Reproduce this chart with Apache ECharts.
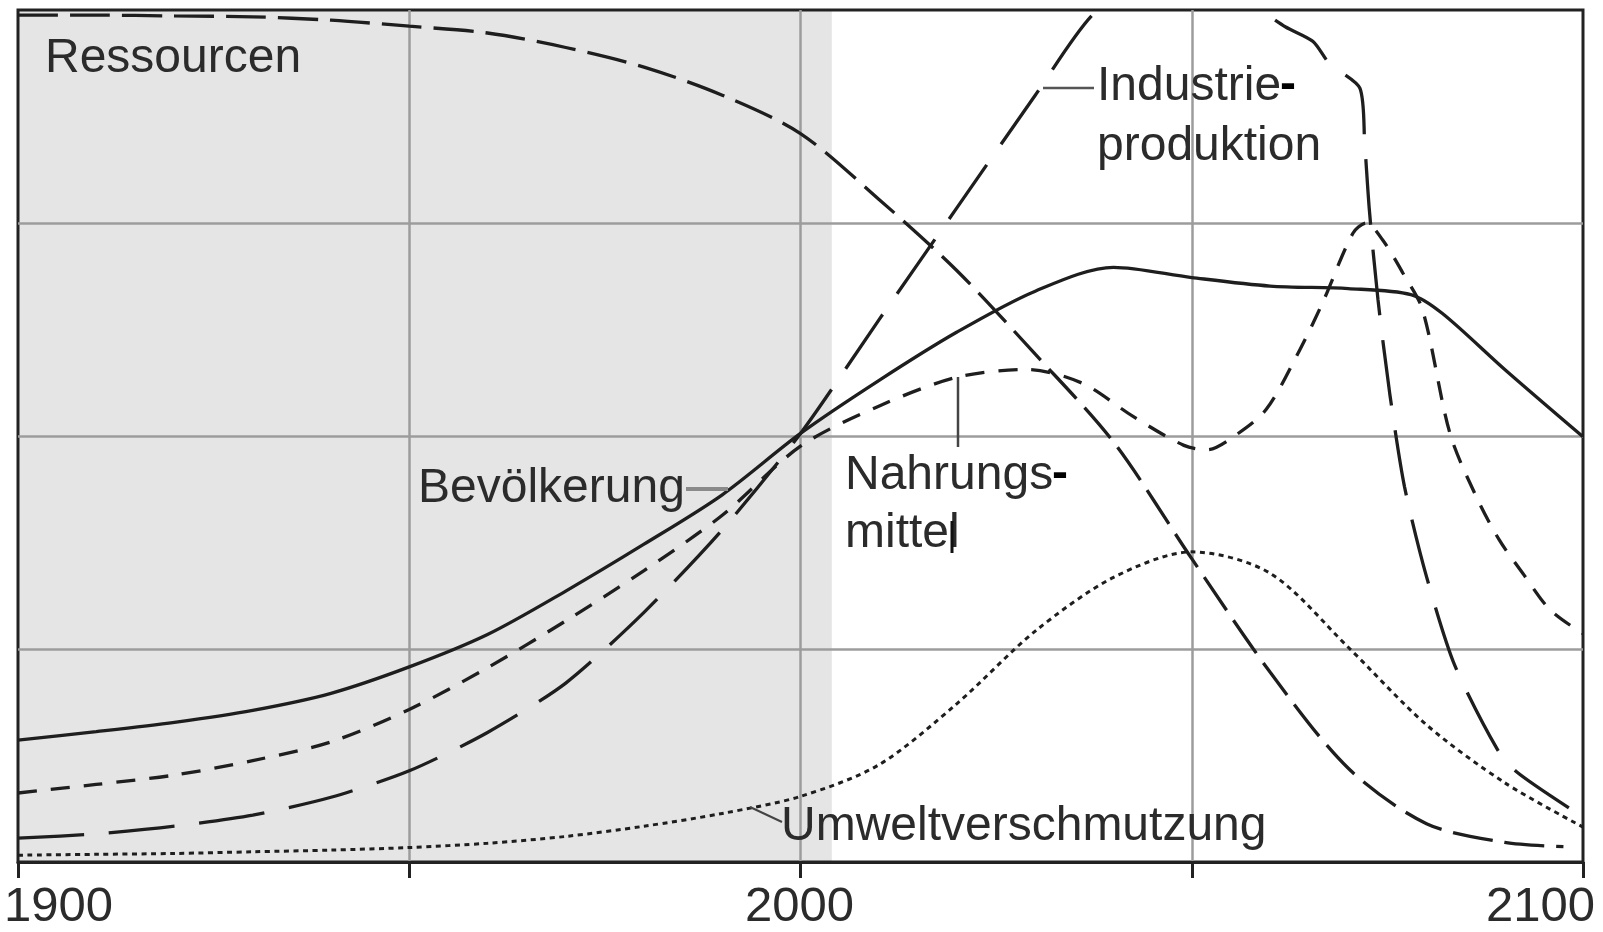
<!DOCTYPE html>
<html>
<head>
<meta charset="utf-8">
<script src="https://cdn.jsdelivr.net/npm/echarts@6/dist/echarts.min.js"></script>
<style>
  html, body { margin: 0; padding: 0; background: #fff; }
  #chart { width: 1603px; height: 932px; }
</style>
</head>
<body>
<div id="chart"></div>
<script>
// Weltmodell-Kurven (relative Werte, 0..100), gelesen aus der Vorlage
var shadeYears = [1900, 2004];

var resYears  = [1900, 1910, 1920, 1930, 1940, 1950, 1960, 1970, 1980, 1990, 2000, 2010, 2020, 2030, 2040, 2050, 2060, 2070, 2080, 2090, 2097.5];
var resValues = [99.4, 99.4, 99.3, 99.2, 98.8, 98.1, 97.3, 95.6, 93.3, 90.0, 85.5, 77.8, 69.4, 59.6, 49.3, 35.6, 22.3, 11.0, 4.5, 2.3, 1.8];

var indYears  = [1900, 1910, 1920, 1930, 1940, 1950, 1960, 1970, 1980, 1990, 2000, 2010, 2020, 2030, 2037.5, 2045, 2052, 2058.7, 2062, 2065.5, 2067.6, 2071.5, 2072.1, 2072.7, 2073.8, 2075.3, 2077.2, 2080, 2083.6, 2089, 2091.5, 2098.3];
var indValues = [2.8, 3.3, 4.2, 5.5, 7.6, 10.7, 15.2, 21.0, 29.3, 39.0, 50.3, 63.6, 76.8, 90.0, 99.6, 103.5, 103.8, 100, 98, 96.3, 93.7, 90.8, 84.4, 76.5, 66.0, 55.0, 44.0, 33.5, 23.1, 13.3, 10.6, 6.3];

var nahYears  = [1900, 1910, 1920, 1930, 1940, 1950, 1960, 1970, 1980, 1990, 2000, 2010, 2020, 2029, 2036, 2042.5, 2049, 2052, 2055.3, 2059.5, 2063.8, 2066.7, 2070.6, 2072.3, 2074.4, 2077, 2079.5, 2083, 2086.3, 2089.3, 2092.3, 2095.8, 2100];
var nahValues = [8.1, 9.1, 10.2, 11.9, 14.1, 17.9, 22.8, 28.3, 34.2, 40.7, 48.8, 53.5, 56.9, 57.8, 56.2, 52.3, 48.9, 48.4, 49.9, 53.1, 60.1, 65.6, 73.8, 75.0, 73.0, 69.1, 64.8, 50.3, 43.0, 37.8, 33.9, 29.6, 26.8];

var bevYears  = [1900, 1910, 1920, 1930, 1940, 1950, 1960, 1970, 1980, 1990, 2000, 2010, 2020, 2030, 2040, 2050, 2060, 2070, 2078, 2082, 2090, 2100];
var bevValues = [14.3, 15.3, 16.4, 17.8, 19.8, 22.9, 26.7, 31.8, 37.3, 43.1, 50.3, 56.5, 62.2, 67.0, 69.8, 68.6, 67.6, 67.3, 66.6, 64.4, 57.8, 49.9];

var umwYears  = [1900, 1910, 1920, 1930, 1940, 1950, 1960, 1970, 1980, 1990, 2000, 2010, 2020, 2030, 2040, 2050, 2060, 2070, 2080, 2090, 2100];
var umwValues = [0.8, 0.9, 1.0, 1.2, 1.4, 1.7, 2.2, 3.0, 4.2, 5.7, 7.7, 11.4, 18.6, 27.1, 33.4, 36.4, 33.9, 25.2, 16.1, 9.3, 4.1];

var FONT = '"Liberation Sans", Arial, Helvetica, sans-serif';
var INK = '#1e1e1e';
var TXT = '#2b2b2b';

function pairs(xs, ys) {
    return xs.map(function (x, i) { return [x, ys[i]]; });
}

function curve(name, xs, ys, dash, width, smooth) {
    return {
        type: 'line',
        name: name,
        xAxisIndex: 0,
        yAxisIndex: 0,
        data: pairs(xs, ys),
        symbol: 'none',
        smooth: smooth == null ? 0.3 : smooth,
        clip: true,
        z: 3,
        lineStyle: { color: INK, width: width || 3.3, type: dash, cap: 'butt' }
    };
}

function label(text, x, y, size, color, weight) {
    return {
        type: 'text', x: x, y: y, z: 10,
        style: {
            text: text, fill: color || TXT,
            font: (weight || 'normal') + ' ' + (size || 48) + 'px ' + FONT,
            textAlign: 'left', textVerticalAlign: 'middle'
        }
    };
}

function leader(x1, y1, x2, y2, color, w) {
    return {
        type: 'line', z: 10,
        shape: { x1: x1, y1: y1, x2: x2, y2: y2 },
        style: { stroke: color || '#555', lineWidth: w || 2.5 }
    };
}

var chart = echarts.init(document.getElementById('chart'));

chart.setOption({
    animation: false,
    backgroundColor: '#fff',
    grid: [
        { left: 18, right: 20, top: 10, bottom: 70, show: true, borderColor: '#222', borderWidth: 3, z: 2 },
        { left: 4, right: 8, top: 10, bottom: 70 }   // nur fuer die Jahreszahlen
    ],
    xAxis: [{
        type: 'value', gridIndex: 0, min: 1900, max: 2100, interval: 50, z: 2,
        axisLine: { show: true, onZero: false, lineStyle: { color: '#222', width: 3 } },
        axisTick: { show: true, length: 16, lineStyle: { color: '#222', width: 3 } },
        axisLabel: { show: false },
        splitLine: { show: true, showMinLine: false, showMaxLine: false, lineStyle: { color: '#9c9c9c', width: 2.5 } }
    }, {
        type: 'value', gridIndex: 1, min: 1900, max: 2100, interval: 100,
        axisLine: { show: false }, axisTick: { show: false }, splitLine: { show: false },
        axisLabel: {
            show: true, fontSize: 49, fontFamily: FONT, color: TXT, margin: 23,
            alignMinLabel: 'left', alignMaxLabel: 'right',
            formatter: function (v) { return String(v); }
        }
    }],
    yAxis: [{
        type: 'value', gridIndex: 0, min: 0, max: 100, interval: 25, z: 2,
        axisLine: { show: false }, axisTick: { show: false }, axisLabel: { show: false },
        splitLine: { show: true, showMinLine: false, showMaxLine: false, lineStyle: { color: '#9c9c9c', width: 2.5 } }
    }, {
        type: 'value', gridIndex: 1, min: 0, max: 100, show: false
    }],
    series: [
        {
            type: 'line', name: 'shade', xAxisIndex: 0, yAxisIndex: 0, data: [], z: 1,
            markArea: {
                silent: true,
                itemStyle: { color: '#e5e5e5' },
                data: [[{ xAxis: shadeYears[0] }, { xAxis: shadeYears[1] }]]
            }
        },
        curve('Ressourcen', resYears, resValues, [40, 12]),
        curve('Industrieproduktion', indYears, indValues, [66, 25], 3.3, 0.25),
        curve('Nahrungsmittel', nahYears, nahValues, [19, 14]),
        curve('Bevölkerung', bevYears, bevValues, 'solid'),
        curve('Umweltverschmutzung', umwYears, umwValues, [5, 4.5], 3)
    ],
    graphic: [
        label('Ressourcen', 45, 59),
        label('Industrie', 1097, 87),
        label('-', 1280, 86, 48, '#000', 'bold'),
        label('produktion', 1097, 147),
        leader(1043, 88, 1094, 88, '#555', 2.5),
        label('Bevölkerung', 418, 489),
        leader(686, 489, 728, 489, '#8a8a8a', 4),
        label('Nahrungs', 845, 476),
        label('-', 1052, 475, 48, '#000', 'bold'),
        label('mittel', 845, 534),
        leader(958, 377, 958, 447, '#444', 2.5),
        leader(952, 521, 952, 553, '#111', 3),
        label('Umweltverschmutzung', 781, 827),
        leader(750, 807, 782, 822, '#444', 2)
    ]
});
</script>
</body>
</html>
